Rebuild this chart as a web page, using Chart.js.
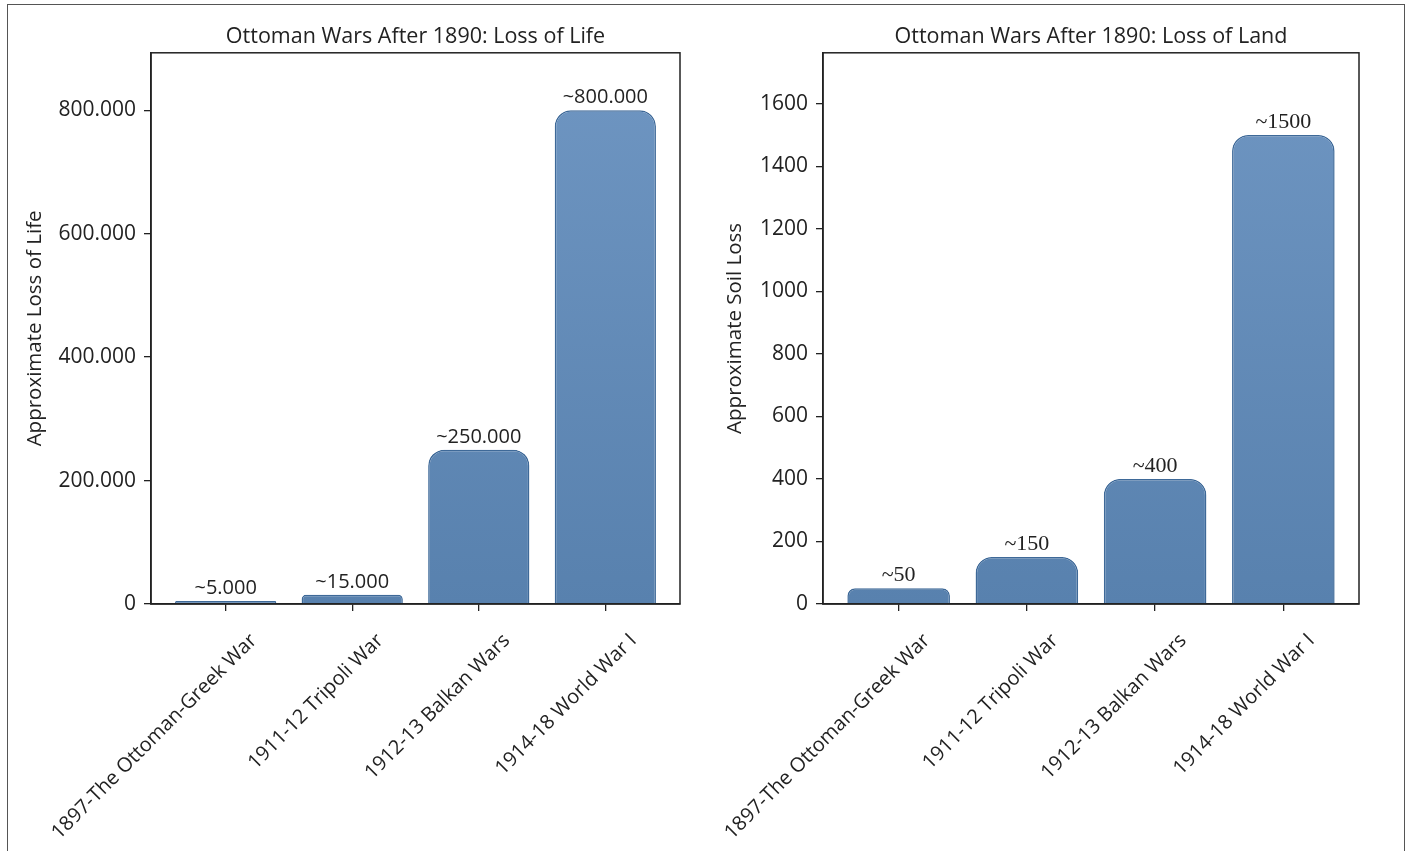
<!DOCTYPE html>
<html>
<head>
<meta charset="utf-8">
<script src="https://cdn.jsdelivr.net/npm/chart.js@4/dist/chart.umd.min.js"></script>
<style>
html, body { margin: 0; padding: 0; background: #fff; overflow: hidden; }
body { width: 1413px; height: 851px; position: relative; }
#frame { position: absolute; left: 7px; top: 4px; width: 1398px; height: 900px; border: 1.5px solid #555; box-sizing: border-box; }
.box { position: absolute; top: 0; height: 851px; }
#lifeBox { left: 0; width: 700px; }
#landBox { left: 700px; width: 713px; }
</style>
</head>
<body>
<div id="frame"></div>
<div class="box" id="lifeBox"><canvas id="lifeChart"></canvas></div>
<div class="box" id="landBox"><canvas id="landChart"></canvas></div>
<script>
// data
const wars = ["1897-The Ottoman-Greek War", "1911-12 Tripoli War", "1912-13 Balkan Wars", "1914-18 World War I"];
const lifeLost = [5000, 15000, 250000, 800000];
const landLost = [50, 150, 400, 1500];
const lifeTicks = [0, 200000, 400000, 600000, 800000];
const landTicks = [0, 200, 400, 600, 800, 1000, 1200, 1400, 1600];

const ink = "#222";
const sans = "Open Sans";

// 800000 -> "800.000"
function dots(v) {
    return String(v).replace(/\B(?=(\d{3})+(?!\d))/g, ".");
}

function barFill(ctx) {
    const area = ctx.chart.chartArea;
    if (!area) return "#6189b6";
    const g = ctx.chart.ctx.createLinearGradient(0, area.top, 0, area.bottom);
    g.addColorStop(0, "#6f96c2");
    g.addColorStop(1, "#5881ae");
    return g;
}

const framePlugin = {
    id: "frame",
    afterDraw(chart) {
        const a = chart.chartArea, c = chart.ctx;
        c.save();
        c.strokeStyle = ink;
        c.lineWidth = 1.5;
        c.strokeRect(a.left, a.top, a.right - a.left, a.bottom - a.top);
        c.restore();
    }
};

const valuePlugin = {
    id: "values",
    afterDatasetsDraw(chart, args, opts) {
        const c = chart.ctx;
        const meta = chart.getDatasetMeta(0);
        c.save();
        c.fillStyle = ink;
        c.font = opts.font;
        c.textAlign = "center";
        c.textBaseline = "alphabetic";
        meta.data.forEach((bar, i) => {
            c.fillText(opts.format(chart.data.datasets[0].data[i].y), bar.x, bar.y - 7);
        });
        c.restore();
    }
};

function makeChart(id, title, yTitle, values, yMax, yTicks, tickFmt, valueFont, valueFmt, yWidth, padRight, yTitlePad) {
    return new Chart(document.getElementById(id), {
        type: "bar",
        data: {
            datasets: [{
                data: values.map((v, i) => ({ x: i, y: v })),
                backgroundColor: barFill,
                borderColor: "#3e6998",
                borderWidth: 1.5,
                borderRadius: 16,
                borderSkipped: "start",
                barPercentage: 0.8,
                categoryPercentage: 1
            }]
        },
        plugins: [framePlugin, valuePlugin],
        options: {
            responsive: true,
            maintainAspectRatio: false,
            animation: false,
            layout: { padding: { left: 0, right: padRight, top: 0, bottom: 0 } },
            plugins: {
                legend: { display: false },
                tooltip: { enabled: false },
                title: {
                    display: true, text: title, fullSize: false, color: ink,
                    font: { family: sans, size: 21.5, weight: "normal" },
                    padding: { top: 24, bottom: 3 }
                },
                values: { font: valueFont, format: valueFmt }
            },
            scales: {
                x: {
                    type: "linear", min: -0.59, max: 3.59, offset: false,
                    grid: { drawOnChartArea: false, offset: false, tickLength: 7, color: ink, lineWidth: 1.3 },
                    border: { color: ink, width: 1.5 },
                    ticks: {
                        autoSkip: false, minRotation: 45, maxRotation: 45, labelOffset: 28, padding: 18,
                        color: ink, font: { family: sans, size: 20 },
                        callback: v => wars[v]
                    },
                    afterBuildTicks: s => { s.ticks = wars.map((w, i) => ({ value: i })); },
                    afterFit: s => { s.height = 247; s.paddingLeft = 0; s.paddingRight = 0; }
                },
                y: {
                    min: 0, max: yMax,
                    grid: { drawOnChartArea: false, tickLength: 7, color: ink, lineWidth: 1.3 },
                    border: { color: ink, width: 1.5 },
                    ticks: { padding: 8, color: ink, font: { family: sans, size: 21 }, callback: tickFmt },
                    title: {
                        display: true, text: yTitle, color: ink,
                        font: { family: sans, size: 20.5 },
                        padding: { top: yTitlePad, bottom: 0 }
                    },
                    afterBuildTicks: s => { s.ticks = yTicks.map(v => ({ value: v })); },
                    afterFit: s => { s.width = yWidth; s.paddingTop = 0; s.paddingBottom = 0; }
                }
            }
        }
    });
}

makeChart("lifeChart", "Ottoman Wars After 1890: Loss of Life", "Approximate Loss of Life",
    lifeLost, 893000, lifeTicks, v => dots(v),
    "20px 'Open Sans'", v => "~" + dots(v), 151, 20, 23);

makeChart("landChart", "Ottoman Wars After 1890: Loss of Land", "Approximate Soil Loss",
    landLost, 1763, landTicks, v => String(v),
    "22px 'Liberation Serif'", v => "~" + v, 123, 54, 23);
</script>
</body>
</html>
